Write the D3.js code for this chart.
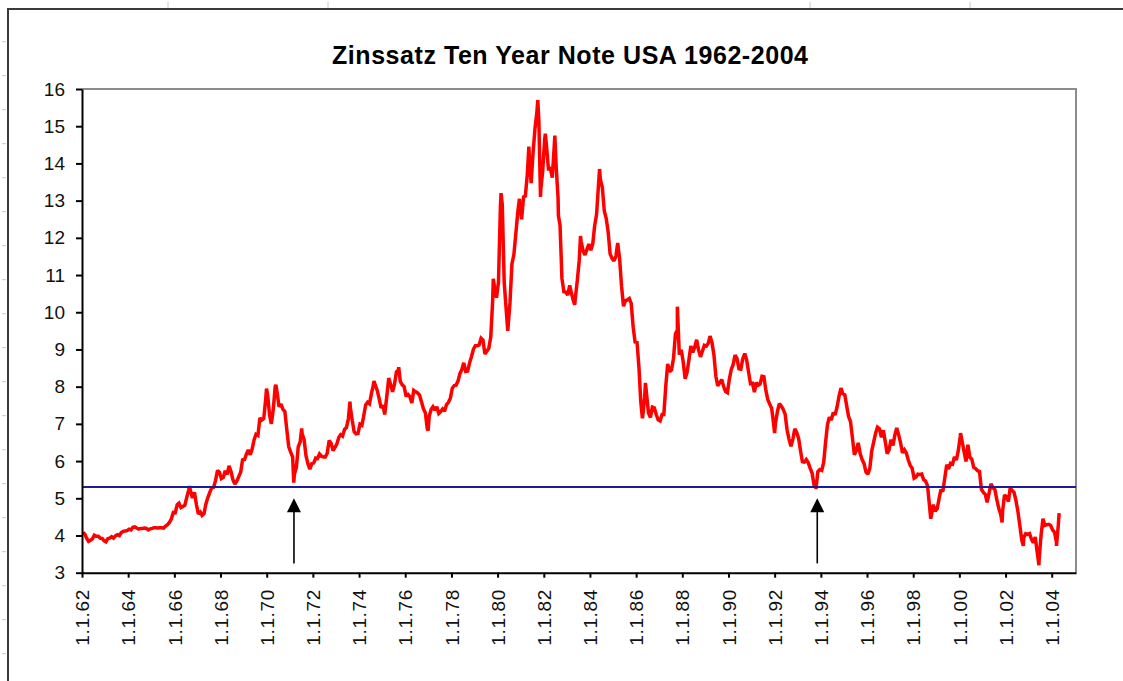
<!DOCTYPE html>
<html><head><meta charset="utf-8">
<script src="https://cdn.jsdelivr.net/npm/d3@7"></script>
<style>
html,body{margin:0;padding:0;background:#fff;}
svg{display:block;}
text{font-family:Arial,"Liberation Sans",sans-serif;}
</style></head><body>
<svg id="chart" width="1123" height="681"></svg>
<script>
const chartTitle = "Zinssatz Ten Year Note USA 1962-2004";

// Monthly yields (%), one value per month starting January of the first year of each block
const yields1962to1969 = [
  4.08,4.04,3.93,3.84,3.87,3.91,4.01,3.98,3.98,3.93,3.92,3.86,
  3.83,3.92,3.93,3.97,3.93,3.99,4.02,4.00,4.08,4.11,4.12,4.13,
  4.17,4.15,4.22,4.23,4.20,4.17,4.19,4.19,4.20,4.19,4.15,4.18,
  4.19,4.21,4.21,4.20,4.21,4.21,4.20,4.25,4.29,4.35,4.45,4.62,
  4.61,4.83,4.87,4.75,4.78,4.81,5.02,5.22,5.18,5.01,5.16,4.84,
  4.58,4.63,4.54,4.59,4.85,5.02,5.16,5.28,5.30,5.48,5.75,5.70,
  5.53,5.56,5.74,5.64,5.87,5.72,5.50,5.38,5.46,5.58,5.70,6.03,
  6.04,6.19,6.30,6.17,6.32,6.57,6.72,6.69,7.16,7.10,7.14,7.65
];
const yields1970to1979 = [
  7.79,7.24,7.00,7.39,8.00,7.84,7.46,7.53,7.39,7.33,6.84,6.39,
  6.24,6.11,5.65,5.83,6.39,6.52,6.73,6.58,6.14,5.93,5.78,5.93,
  5.95,6.08,6.07,6.19,6.13,6.11,6.11,6.21,6.55,6.48,6.28,6.36,
  6.46,6.64,6.71,6.67,6.85,6.90,7.13,7.45,7.09,6.79,6.73,6.74,
  6.99,6.96,7.21,7.51,7.58,7.54,7.81,8.04,8.04,7.90,7.68,7.43,
  7.50,7.32,7.73,8.23,8.06,7.86,8.06,8.40,8.45,8.14,8.05,8.00,
  7.74,7.79,7.73,7.56,7.90,7.86,7.83,7.77,7.59,7.41,7.29,6.87,
  7.21,7.39,7.46,7.37,7.46,7.28,7.33,7.40,7.34,7.52,7.58,7.69,
  7.96,8.03,8.04,8.15,8.35,8.46,8.64,8.41,8.42,8.64,8.81,9.01,
  9.10,9.10,9.12,9.30,9.25,8.88,8.95,9.03,9.33,10.30,10.65,10.39
];
const yields1980to1989 = [
  10.80,12.85,12.90,10.80,10.10,9.60,10.25,11.30,11.55,12.10,12.68,12.95,
  12.50,13.10,13.12,13.70,14.25,13.47,14.28,14.94,15.40,15.15,13.30,13.80,
  14.65,14.43,13.86,13.87,13.62,14.45,13.95,13.06,12.34,10.91,10.55,10.54,
  10.46,10.72,10.51,10.30,10.38,10.85,11.38,11.90,11.65,11.54,11.69,11.83,
  11.67,11.84,12.32,12.63,13.41,13.56,13.36,12.72,12.52,12.16,11.57,11.45,
  11.38,11.51,11.86,11.43,10.70,10.16,10.31,10.33,10.37,10.24,9.60,9.20,
  9.19,8.50,7.60,7.20,7.71,7.80,7.30,7.17,7.45,7.43,7.25,7.11,
  7.08,7.25,7.25,8.02,8.61,8.40,8.45,8.76,9.42,9.52,8.86,8.99,
  8.67,8.21,8.37,8.72,9.09,8.92,9.06,9.26,8.98,8.80,8.96,9.11,
  9.09,9.17,9.36,9.18,8.86,8.28,8.02,8.11,8.19,8.01,7.87,7.84
];
const yields1990to1999 = [
  8.21,8.47,8.59,8.85,8.76,8.48,8.47,8.75,8.89,8.72,8.39,8.08,
  8.09,7.85,8.11,8.04,8.07,8.28,8.27,7.90,7.65,7.53,7.42,7.00,
  7.03,7.34,7.54,7.48,7.39,7.26,6.84,6.59,6.40,6.59,6.87,6.77,
  6.60,6.26,5.98,5.97,6.04,5.96,5.81,5.68,5.36,5.33,5.72,5.77,
  5.75,5.97,6.48,6.97,7.18,7.10,7.30,7.24,7.46,7.74,7.96,7.81,
  7.78,7.47,7.20,7.06,6.63,6.17,6.28,6.49,6.20,6.04,5.93,5.71,
  5.65,5.81,6.27,6.51,6.74,6.91,6.87,6.64,6.83,6.53,6.20,6.30,
  6.58,6.42,6.69,6.89,6.71,6.49,6.22,6.30,6.21,6.03,5.88,5.81,
  5.54,5.57,5.65,5.64,5.65,5.50,5.46,5.34,4.81,4.53,4.83,4.65,
  4.72,5.00,5.23,5.18,5.54,5.90,5.79,5.94,5.92,6.11,6.03,6.28
];
const yields2000to2004 = [
  6.66,6.52,6.26,5.99,6.44,6.10,6.05,5.83,5.80,5.74,5.72,5.24,
  5.16,5.10,4.89,5.14,5.39,5.28,5.24,4.97,4.73,4.57,4.65,5.09,
  5.04,4.91,5.28,5.21,5.16,4.93,4.65,4.26,3.87,3.94,4.05,4.03,
  4.05,3.90,3.81,3.96,3.57,3.33,3.98,4.45,4.27,4.29,4.30,4.27,
  4.15,4.08,3.83,4.30
];
const blockStartYears = [1962, 1970, 1980, 1990, 2000];

// Intra-month extremes visible in the picture
const extremeDates = ['1966-08-29','1969-12-29','1970-05-26','1971-03-05','1971-07-08','1973-08-10',
  '1974-08-25','1975-02-10','1975-09-20','1976-12-28','1979-10-25','1980-02-25','1980-06-10',
  '1980-12-12','1981-05-10','1981-09-28','1981-11-10','1982-01-25','1982-06-25','1982-08-20',
  '1983-05-05','1983-08-05','1984-06-01','1986-04-10','1986-05-28','1987-10-15','1991-12-31',
  '1993-10-15','1998-10-05','2000-01-20','2001-11-07','2002-10-09','2003-06-13','2004-03-16','2004-04-27'];
const extremeValues = [5.33,7.95,8.05,5.42,6.88,7.60,
  8.15,7.25,8.52,6.82,10.90,13.20,9.50,
  13.05,14.45,15.70,13.10,14.80,14.75,12.60,
  10.20,12.05,13.85,7.15,8.10,10.15,6.75,
  5.25,4.45,6.75,4.35,3.72,3.20,3.72,4.60];

const referenceLevel = 5.3;
const arrowDates = ['1971-03-08','1993-11-05'];
const arrowTipValue = 5.0, arrowTailValue = 3.25;

const yTicks = [3,4,5,6,7,8,9,10,11,12,13,14,15,16];
const xTickYears = [1962,1964,1966,1968,1970,1972,1974,1976,1978,1980,1982,1984,1986,1988,1990,1992,1994,1996,1998,2000,2002,2004];

// ---- build series
const parse = d3.timeParse('%Y-%m-%d');
const blocks = [yields1962to1969, yields1970to1979, yields1980to1989, yields1990to1999, yields2000to2004];
let series = [];
blocks.forEach((arr, b) => {
  arr.forEach((v, i) => {
    series.push({date: new Date(blockStartYears[b] + Math.floor(i/12), i % 12, 15), value: v});
  });
});
extremeDates.forEach((d, i) => series.push({date: parse(d), value: extremeValues[i]}));
series.sort((a, b) => a.date - b.date);

// ---- chart
const svg = d3.select('#chart');
svg.append('rect').attr('width', 1123).attr('height', 681).attr('fill', '#fff');

// worksheet frame
const deco = svg.append('g');
deco.append('line').attr('x1', 7).attr('x2', 1123).attr('y1', 9).attr('y2', 9).attr('stroke', '#3a3a3a').attr('stroke-width', 2);
deco.append('line').attr('x1', 8).attr('x2', 8).attr('y1', 8).attr('y2', 681).attr('stroke', '#3a3a3a').attr('stroke-width', 2);
[168, 328, 810, 970].forEach(cx => deco.append('line').attr('x1', cx).attr('x2', cx).attr('y1', 2).attr('y2', 8).attr('stroke', '#c8c8c8'));
d3.range(19).forEach(i => deco.append('line').attr('x1', 2).attr('x2', 6).attr('y1', 41.7 + 34 * i).attr('y2', 41.7 + 34 * i).attr('stroke', '#c8c8c8'));

const L = 82, R = 1076, T = 89, B = 572.7;
const x = d3.scaleTime().domain([new Date(1962, 0, 1), new Date(2005, 0, 19)]).range([L, R]);
const y = d3.scaleLinear().domain([3, 16]).range([B, T]);

// plot border (top and right, grey)
svg.append('path').attr('d', `M${L},${T}H${R}V${B}`).attr('fill', 'none').attr('stroke', '#8c8c8c').attr('stroke-width', 2);

// data line
const line = d3.line().x(d => x(d.date)).y(d => y(d.value));
svg.append('path').datum(series).attr('d', line).attr('fill', 'none')
  .attr('stroke', '#ff0000').attr('stroke-width', 3.5).attr('stroke-linejoin', 'miter').attr('stroke-miterlimit', 2);

// reference line
svg.append('line').attr('x1', L).attr('x2', R).attr('y1', y(referenceLevel)).attr('y2', y(referenceLevel))
  .attr('stroke', '#1c1c9a').attr('stroke-width', 2);

// arrows
arrowDates.forEach(d => {
  const ax = x(parse(d)), tip = y(arrowTipValue), tail = y(arrowTailValue);
  svg.append('line').attr('x1', ax).attr('x2', ax).attr('y1', tail).attr('y2', tip + 10).attr('stroke', '#000').attr('stroke-width', 1.6);
  svg.append('path').attr('d', `M${ax},${tip}L${ax - 7},${tip + 14}L${ax + 7},${tip + 14}Z`).attr('fill', '#000');
});

// axes
const yAxis = d3.axisLeft(y).tickValues(yTicks).tickSize(6).tickSizeOuter(0).tickPadding(11).tickFormat(d3.format('d'));
const gy = svg.append('g').attr('transform', `translate(${L},0)`).call(yAxis);
gy.select('.domain').attr('stroke', '#000').attr('stroke-width', 2);
gy.selectAll('.tick line').attr('stroke', '#000').attr('stroke-width', 2);
gy.selectAll('.tick text').attr('font-size', 19).attr('fill', '#111').attr('font-family', 'Arial, "Liberation Sans", sans-serif');

const xAxis = d3.axisBottom(x).tickValues(xTickYears.map(yr => new Date(yr, 0, 1))).tickSize(5).tickSizeOuter(0)
  .tickFormat(d3.timeFormat('%-d.%-m.%y'));
const gx = svg.append('g').attr('transform', `translate(0,${B})`).call(xAxis);
gx.select('.domain').attr('stroke', '#000').attr('stroke-width', 2);
gx.selectAll('.tick line').attr('stroke', '#000').attr('stroke-width', 2);
gx.selectAll('.tick text').attr('font-size', 19).attr('fill', '#111').attr('font-family', 'Arial, "Liberation Sans", sans-serif')
  .attr('transform', 'rotate(-90)').attr('text-anchor', 'end').attr('x', -17).attr('y', 0).attr('dy', '0.35em')
  .attr('textLength', 56).attr('lengthAdjust', 'spacing');

// title
svg.append('text').attr('x', 570).attr('y', 64).attr('text-anchor', 'middle').attr('font-weight', 'bold')
  .attr('font-size', 25).attr('fill', '#000').attr('textLength', 476).attr('lengthAdjust', 'spacing').text(chartTitle);
</script>
</body></html>
